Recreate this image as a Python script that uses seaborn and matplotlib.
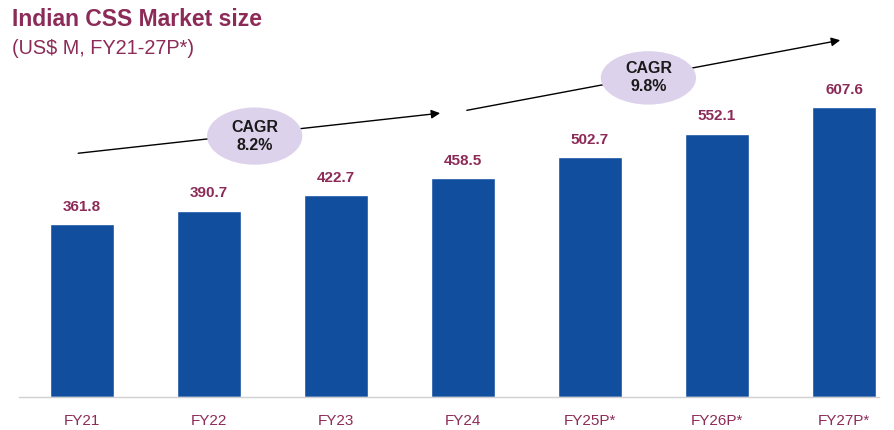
import matplotlib
matplotlib.use('Agg')
import matplotlib.pyplot as plt
from matplotlib.patches import Ellipse
import seaborn as sns
import pandas as pd

years = ['FY21', 'FY22', 'FY23', 'FY24', 'FY25P*', 'FY26P*', 'FY27P*']
market_size = [361.8, 390.7, 422.7, 458.5, 502.7, 552.1, 607.6]
cagr_labels = ['CAGR\n8.2%', 'CAGR\n9.8%']

bar_color = '#114e9e'
text_color = '#8c2b57'
bubble_color = '#ddd2eb'

sns.set_theme(style='white')
plt.rcParams['font.family'] = ['Liberation Sans', 'DejaVu Sans']

df = pd.DataFrame({'year': years, 'size': market_size})

fig = plt.figure(figsize=(8.95, 4.3), dpi=100)
# axis line runs from x=19 to 879 px, baseline at y=397 px
ax = fig.add_axes([19 / 895, (430 - 397) / 430, 860 / 895, 0.85])

sns.barplot(data=df, x='year', y='size', color=bar_color, width=0.51,
            saturation=1, ax=ax)

# category centres at 82 + 127*i px
px_per_cat = 127
ax.set_xlim(-(82 - 19) / px_per_cat, (879 - 82) / px_per_cat)
# 0.477 px per unit on y
ax.set_ylim(0, 0.85 * 430 / 0.477)

for i, v in enumerate(market_size):
    ax.text(i, v + 22, f'{v:.1f}', ha='center', va='bottom', fontsize=11,
            fontweight='bold', color=text_color)

ax.set_xlabel('')
ax.set_ylabel('')
ax.set_yticks([])
ax.tick_params(axis='x', length=0, pad=12, labelsize=11, labelcolor=text_color)
for s in ['top', 'right', 'left']:
    ax.spines[s].set_visible(False)
ax.spines['bottom'].set_color('#d0d0d0')
ax.spines['bottom'].set_linewidth(1.0)

# CAGR arrows and bubbles
ax.annotate('', xy=(2.82, 595), xytext=(-0.03, 511),
            arrowprops=dict(arrowstyle='-|>', color='black', lw=1.0,
                            mutation_scale=13, shrinkA=0, shrinkB=0),
            annotation_clip=False)
ax.annotate('', xy=(5.97, 748), xytext=(3.03, 601),
            arrowprops=dict(arrowstyle='-|>', color='black', lw=1.0,
                            mutation_scale=13, shrinkA=0, shrinkB=0),
            annotation_clip=False)
for (cx, cy, h), lab in zip([(1.36, 547, 120), (4.46, 669, 112)], cagr_labels):
    ax.add_patch(Ellipse((cx, cy), 0.75, h, facecolor=bubble_color,
                         edgecolor='none', zorder=3, clip_on=False))
    ax.text(cx, cy, lab, ha='center', va='center', fontsize=11.5,
            fontweight='bold', color='#1a1a1a', zorder=4, linespacing=1.25)

fig.text(12 / 895, 1 - 20 / 430, 'Indian CSS Market size', fontsize=16.5,
         fontweight='bold', color=text_color, va='center', ha='left')
fig.text(12 / 895, 1 - 49 / 430, '(US$ M, FY21-27P*)', fontsize=14.3,
         color=text_color, va='center', ha='left')

fig.savefig('out.png', dpi=100)
